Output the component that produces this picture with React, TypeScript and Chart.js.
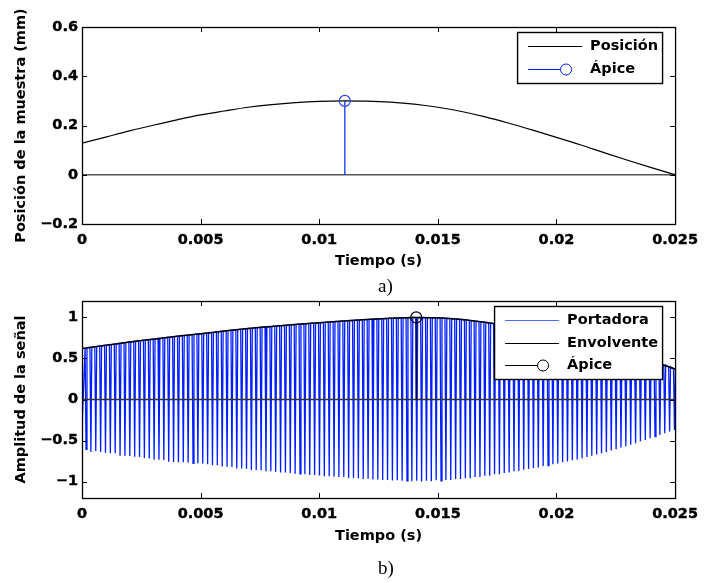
import React, { useEffect, useRef } from 'react';
import { Chart, registerables } from 'chart.js';

Chart.register(...registerables);

const FONT_FAMILY = "'DejaVu Sans', 'Liberation Sans', sans-serif";
const FONT_SIZE = 14.5;
const BLUE = 'rgb(0, 30, 255)';

// ---------- shared x axis ----------
const X_TICKS = [0, 0.005, 0.01, 0.015, 0.02, 0.025];
const X_TICK_LABELS = ['0', '0.005', '0.01', '0.015', '0.02', '0.025'];

// ---------- panel a) ----------
const TIME_A = [
  0, 0.001, 0.002, 0.003, 0.004, 0.005, 0.006, 0.007, 0.008, 0.009, 0.01, 0.011, 0.012,
  0.013, 0.014, 0.015, 0.016, 0.017, 0.018, 0.019, 0.02, 0.021, 0.022, 0.023, 0.024, 0.025,
];
const POSITION = [
  0.128, 0.153, 0.178, 0.201, 0.223, 0.243, 0.259, 0.274, 0.285, 0.293, 0.298, 0.3, 0.299,
  0.295, 0.287, 0.274, 0.257, 0.235, 0.209, 0.181, 0.152, 0.122, 0.09, 0.059, 0.029, 0,
];
const APEX_A = { t: 0.01108, v: 0.3 };
const Y_TICKS_A = [-0.2, 0, 0.2, 0.4, 0.6];
const Y_TICK_LABELS_A = ['\u22120.2', '0', '0.2', '0.4', '0.6'];

// ---------- panel b) ----------
const TIME_B = TIME_A;
const ENVELOPE = [
  0.62, 0.66, 0.7, 0.735, 0.77, 0.8, 0.835, 0.865, 0.89, 0.915, 0.935, 0.955, 0.975,
  0.99, 1.0, 0.995, 0.975, 0.94, 0.895, 0.845, 0.79, 0.73, 0.655, 0.57, 0.475, 0.37,
];
const CARRIER_START = -0.36;
const CARRIER_T0 = 0.00017;
const CARRIER_PERIOD = 0.000205;
const CARRIER_MAX = [
  0.627, 0.635, 0.643, 0.651, 0.66, 0.668, 0.676, 0.684, 0.692, 0.7,
  0.708, 0.715, 0.722, 0.729, 0.736, 0.744, 0.751, 0.758, 0.765, 0.772,
  0.778, 0.784, 0.79, 0.797, 0.803, 0.81, 0.817, 0.824, 0.832, 0.838,
  0.845, 0.851, 0.857, 0.863, 0.868, 0.874, 0.879, 0.884, 0.889, 0.894,
  0.899, 0.904, 0.909, 0.915, 0.919, 0.923, 0.927, 0.931, 0.935, 0.939,
  0.943, 0.948, 0.952, 0.956, 0.96, 0.964, 0.968, 0.972, 0.976, 0.979,
  0.982, 0.985, 0.988, 0.991, 0.993, 0.995, 0.997, 0.999, 1.0, 0.999,
  0.998, 0.997, 0.995, 0.993, 0.989, 0.985, 0.98, 0.976, 0.97, 0.963,
  0.955, 0.948, 0.941, 0.932, 0.923, 0.914, 0.904, 0.895, 0.885, 0.874,
  0.864, 0.854, 0.843, 0.832, 0.821, 0.81, 0.798, 0.787, 0.774, 0.762,
  0.75, 0.737, 0.724, 0.709, 0.693, 0.678, 0.663, 0.646, 0.629, 0.611,
  0.594, 0.576, 0.558, 0.539, 0.519, 0.5, 0.48, 0.46, 0.44, 0.419,
  0.398, 0.375,
];
const CARRIER_MIN = [
  -0.607, -0.64, -0.627, -0.64, -0.648, -0.656, -0.656, -0.684, -0.684, -0.687,
  -0.696, -0.7, -0.712, -0.72, -0.733, -0.733, -0.737, -0.757, -0.76, -0.764,
  -0.764, -0.769, -0.777, -0.777, -0.78, -0.79, -0.8, -0.8, -0.815, -0.82,
  -0.822, -0.84, -0.84, -0.845, -0.86, -0.86, -0.862, -0.875, -0.875, -0.88,
  -0.89, -0.89, -0.895, -0.905, -0.905, -0.91, -0.92, -0.92, -0.925, -0.935,
  -0.935, -0.94, -0.945, -0.945, -0.955, -0.955, -0.96, -0.968, -0.965, -0.975,
  -0.975, -0.98, -0.98, -0.988, -0.985, -0.99, -0.99, -0.995, -0.99, -0.998,
  -0.99, -0.995, -0.985, -0.99, -0.98, -0.98, -0.97, -0.97, -0.96, -0.958,
  -0.945, -0.945, -0.93, -0.928, -0.91, -0.91, -0.895, -0.888, -0.875, -0.87,
  -0.855, -0.848, -0.835, -0.828, -0.81, -0.805, -0.79, -0.78, -0.765, -0.755,
  -0.74, -0.73, -0.715, -0.7, -0.685, -0.67, -0.655, -0.64, -0.62, -0.605,
  -0.585, -0.57, -0.55, -0.532, -0.51, -0.493, -0.472, -0.453, -0.432, -0.412,
  -0.39, -0.37,
];
const APEX_B = { t: 0.01409, v: 1.0 };
const Y_TICKS_B = [-1, -0.5, 0, 0.5, 1];
const Y_TICK_LABELS_B = ['\u22121', '\u22120.5', '0', '0.5', '1'];

const font = { family: FONT_FAMILY, size: FONT_SIZE, weight: 'bold' as const };

// frame + inward ticks on all four sides
const framePlugin = {
  id: 'matlabFrame',
  afterDatasetsDraw(chart: any) {
    const { ctx, chartArea: a, scales } = chart;
    const x = scales.x;
    const y = scales.y;
    ctx.save();
    ctx.strokeStyle = '#000';
    ctx.lineWidth = 1;
    ctx.beginPath();
    x.ticks.forEach((t: any) => {
      const px = Math.round(x.getPixelForValue(t.value)) + 0.5;
      ctx.moveTo(px, a.bottom);
      ctx.lineTo(px, a.bottom - 5);
      ctx.moveTo(px, a.top);
      ctx.lineTo(px, a.top + 5);
    });
    y.ticks.forEach((t: any) => {
      const py = Math.round(y.getPixelForValue(t.value)) + 0.5;
      ctx.moveTo(a.left, py);
      ctx.lineTo(a.left + 5, py);
      ctx.moveTo(a.right, py);
      ctx.lineTo(a.right - 5, py);
    });
    ctx.stroke();
    ctx.lineWidth = 1.3;
    ctx.strokeRect(a.left + 0.5, a.top + 0.5, a.right - a.left, a.bottom - a.top);
    ctx.restore();
  },
};

// MATLAB style legend box in upper right
const legendPlugin = {
  id: 'matlabLegend',
  afterDatasetsDraw(chart: any) {
    const { ctx, chartArea: a } = chart;
    const items = chart.data.datasets.filter((d: any) => d.legendEntry);
    if (!items.length) return;
    ctx.save();
    ctx.font = `bold ${FONT_SIZE}px ${FONT_FAMILY}`;
    const textW = Math.max(...items.map((d: any) => ctx.measureText(d.label).width));
    const lineLen = 54;
    const padL = 11;
    const gap = 8;
    const padR = 4;
    const rowH = 22.5;
    const padT = 14;
    const w = Math.round(padL + lineLen + gap + textW + padR);
    const h = Math.round(padT * 2 + rowH * (items.length - 1));
    const right = a.right - 13;
    const top = a.top + 5;
    const left = right - w;
    ctx.fillStyle = '#fff';
    ctx.fillRect(left, top, w, h);
    ctx.strokeStyle = '#000';
    ctx.lineWidth = 1.4;
    ctx.strokeRect(left + 0.5, top + 0.5, w, h);
    items.forEach((d: any, i: number) => {
      const cy = Math.round(top + padT + i * rowH) + 0.5;
      const x0 = left + padL;
      const x1 = x0 + lineLen;
      ctx.strokeStyle = d.legendColor || d.borderColor;
      ctx.lineWidth = 1;
      ctx.beginPath();
      if (d.legendEntry === 'marker') {
        const r = 5.5;
        const cx = x1 - 16;
        ctx.moveTo(x0, cy);
        ctx.lineTo(cx - r, cy);
        ctx.stroke();
        ctx.beginPath();
        ctx.arc(cx, cy, r, 0, Math.PI * 2);
        ctx.stroke();
      } else {
        ctx.moveTo(x0, cy);
        ctx.lineTo(x1, cy);
        ctx.stroke();
      }
      ctx.fillStyle = '#000';
      ctx.textBaseline = 'middle';
      ctx.textAlign = 'left';
      ctx.fillText(d.label, x1 + gap, cy);
    });
    ctx.restore();
  },
};

function makeScales(yMin: number, yMax: number, yTicks: number[], yLabels: string[], yTitle: string, xHeight: number) {
  return {
    x: {
      type: 'linear',
      min: 0,
      max: 0.025,
      grid: { display: false, drawTicks: false },
      border: { display: false },
      afterBuildTicks: (s: any) => {
        s.ticks = X_TICKS.map((v) => ({ value: v }));
      },
      ticks: {
        autoSkip: false,
        maxRotation: 0,
        padding: 8,
        color: '#000',
        font,
        textStrokeColor: '#000',
        textStrokeWidth: 0.4,
        callback: (_v: any, i: number) => X_TICK_LABELS[i],
      },
      title: {
        display: true,
        text: 'Tiempo (s)',
        color: '#000',
        font,
        padding: { top: 0, bottom: 4 },
      },
      afterFit: (s: any) => {
        s.height = xHeight;
      },
    },
    y: {
      type: 'linear',
      min: yMin,
      max: yMax,
      grid: { display: false, drawTicks: false },
      border: { display: false },
      afterBuildTicks: (s: any) => {
        s.ticks = yTicks.map((v) => ({ value: v }));
      },
      ticks: {
        autoSkip: false,
        padding: 4,
        color: '#000',
        font,
        textStrokeColor: '#000',
        textStrokeWidth: 0.4,
        callback: (_v: any, i: number) => yLabels[i],
      },
      title: {
        display: true,
        text: yTitle,
        color: '#000',
        font,
        padding: { top: 13, bottom: 0 },
      },
      afterFit: (s: any) => {
        s.width = 82;
      },
    },
  };
}

function baseOptions(scales: any) {
  return {
    responsive: false,
    animation: false,
    events: [],
    layout: { padding: { left: 0, top: 27, right: 26, bottom: 0 } },
    plugins: { legend: { display: false }, tooltip: { enabled: false }, title: { display: false } },
    scales,
  };
}

function configA(): any {
  return {
    type: 'line',
    data: {
      datasets: [
        {
          label: 'Posición',
          legendEntry: 'line',
          data: TIME_A.map((t, i) => ({ x: t, y: POSITION[i] })),
          borderColor: '#000',
          borderWidth: 1.2,
          pointRadius: 0,
          cubicInterpolationMode: 'monotone',
          order: 2,
        },
        {
          label: 'Ápice',
          legendEntry: 'marker',
          data: [
            { x: APEX_A.t, y: 0 },
            { x: APEX_A.t, y: APEX_A.v },
          ],
          borderColor: BLUE,
          borderWidth: 1.2,
          pointRadius: [0, 5.5],
          pointBorderColor: 'rgb(40, 70, 255)',
          pointBackgroundColor: 'rgba(0,0,0,0)',
          pointBorderWidth: 1.2,
          order: 1,
        },
        {
          label: 'baseline',
          data: [
            { x: X_TICKS[0], y: 0 },
            { x: X_TICKS[X_TICKS.length - 1], y: 0 },
          ],
          borderColor: '#555',
          borderWidth: 1.6,
          pointRadius: 0,
          order: 3,
        },
      ],
    },
    options: baseOptions(
      makeScales(-0.2, 0.6, Y_TICKS_A, Y_TICK_LABELS_A, 'Posición de la muestra (mm)', 50)
    ),
    plugins: [framePlugin, legendPlugin],
  };
}

function configB(): any {
  const half = 0.00004;
  const carrier: { x: number; y: number }[] = [{ x: 0, y: CARRIER_START }];
  CARRIER_MAX.forEach((mx, k) => {
    const t = CARRIER_T0 + k * CARRIER_PERIOD;
    carrier.push({ x: t - half, y: mx });
    carrier.push({ x: t, y: CARRIER_MIN[k] });
    carrier.push({ x: t + half, y: mx });
  });
  return {
    type: 'line',
    data: {
      datasets: [
        {
          label: 'Portadora',
          legendEntry: 'line',
          legendColor: 'rgb(70, 110, 255)',
          data: carrier,
          borderColor: BLUE,
          borderWidth: 1.3,
          pointRadius: 0,
          tension: 0,
          order: 4,
        },
        {
          label: 'Envolvente',
          legendEntry: 'line',
          data: TIME_B.map((t, i) => ({ x: t, y: ENVELOPE[i] })),
          borderColor: '#000',
          borderWidth: 1.5,
          pointRadius: 0,
          cubicInterpolationMode: 'monotone',
          order: 2,
        },
        {
          label: 'Ápice',
          legendEntry: 'marker',
          data: [
            { x: APEX_B.t, y: 0 },
            { x: APEX_B.t, y: APEX_B.v },
          ],
          borderColor: '#000',
          borderWidth: 1.2,
          pointRadius: [0, 5.5],
          pointBorderColor: '#000',
          pointBackgroundColor: 'rgba(0,0,0,0)',
          pointBorderWidth: 1.2,
          order: 1,
        },
        {
          label: 'baseline',
          data: [
            { x: X_TICKS[0], y: 0 },
            { x: X_TICKS[X_TICKS.length - 1], y: 0 },
          ],
          borderColor: '#333',
          borderWidth: 1.6,
          pointRadius: 0,
          order: 3,
        },
      ],
    },
    options: baseOptions(
      makeScales(-1.2, 1.2, Y_TICKS_B, Y_TICK_LABELS_B, 'Amplitud de la señal', 51)
    ),
    plugins: [framePlugin, legendPlugin],
  };
}

function ChartCanvas({ top, height, build }: { top: number; height: number; build: () => any }) {
  const ref = useRef<HTMLCanvasElement | null>(null);
  useEffect(() => {
    if (!ref.current) return;
    const chart = new Chart(ref.current, build());
    return () => chart.destroy();
  }, [build]);
  return (
    <canvas
      ref={ref}
      width={706}
      height={height}
      style={{ position: 'absolute', left: 0, top, width: 706, height, display: 'block' }}
    />
  );
}

const captionStyle: React.CSSProperties = {
  position: 'absolute',
  left: 378,
  fontFamily: "'Liberation Serif', 'Times New Roman', serif",
  fontSize: 19,
  lineHeight: '19px',
  color: '#000',
  whiteSpace: 'nowrap',
};

export default function App() {
  return (
    <div
      style={{
        position: 'absolute',
        left: 0,
        top: 0,
        width: 706,
        height: 583,
        background: '#fff',
        overflow: 'hidden',
      }}
    >
      <ChartCanvas top={0} height={274} build={configA} />
      <ChartCanvas top={274} height={275} build={configB} />
      <div style={{ ...captionStyle, top: 276 }}>a)</div>
      <div style={{ ...captionStyle, top: 558 }}>b)</div>
    </div>
  );
}
